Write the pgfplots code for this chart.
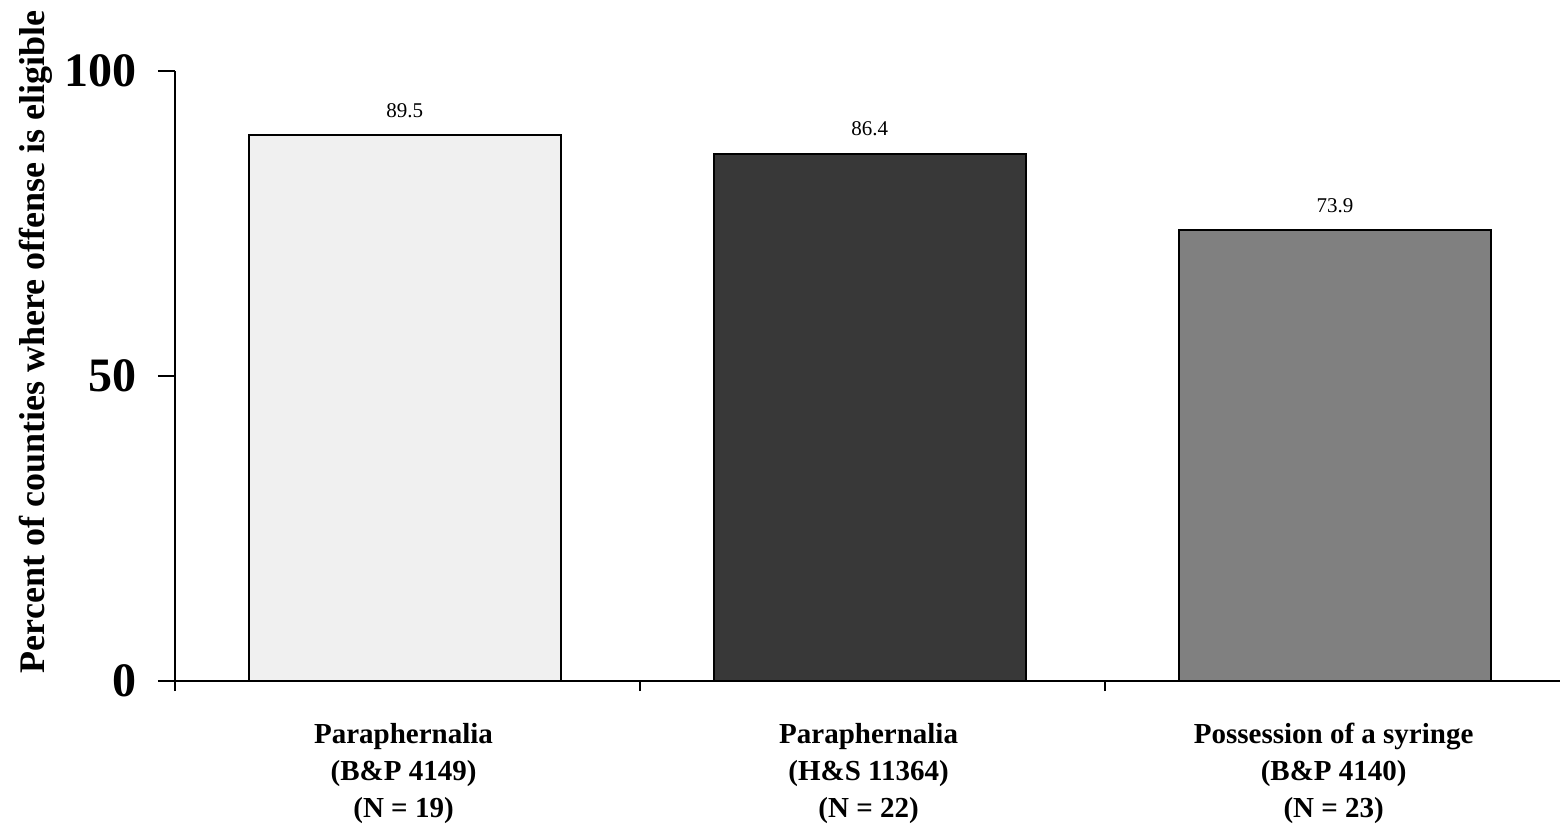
\documentclass[border=0pt]{standalone}
\usepackage{pgfplots}
\pgfplotsset{compat=1.18}
\usepackage{fontspec}
\setmainfont{Liberation Serif}
\begin{document}
\begin{tikzpicture}
\path[use as bounding box] (-87.5pt,-72.5pt) rectangle (692.5pt,340.5pt);
\begin{axis}[
  at={(0,0)}, anchor=origin,
  scale only axis,
  width=692.5pt, height=305pt,
  xmin=0.5, xmax=3.478,
  ymin=0, ymax=100,
  axis lines=left,
  axis line style={-, line width=1pt},
  ytick={0,50,100},
  yticklabel style={font=\fontsize{24}{24}\selectfont\bfseries, xshift=-7pt},
  /pgf/number format/assume math mode=true,
  xtick={1,2,3},
  major x tick style={draw=none},
  minor xtick={0.5,1.5,2.5},
  minor tick length=5pt,
  major tick length=8.5pt,
  tick align=outside,
  tick style={line width=1pt, black},
  minor x tick style={draw=black, line width=1pt},
  xticklabels={{Paraphernalia\\(B\&P 4149)\\(N = 19)},{Paraphernalia\\(H\&S 11364)\\(N = 22)},{Possession of a syringe\\(B\&P 4140)\\(N = 23)}},
  xticklabel style={align=center, font=\fontsize{14.5}{18.5}\selectfont\bfseries, yshift=-9pt, xshift=-2pt},
  ylabel={Percent of counties where offense is eligible},
  ylabel style={at={(axis description cs:-0.1005,0.556)}, anchor=center, font=\fontsize{18}{18}\selectfont\bfseries},
  ybar, bar width=0.671, bar shift=0pt,
  nodes near coords,
  nodes near coords style={font=\fontsize{10.5}{10.5}\selectfont, yshift=5pt, /pgf/number format/fixed, /pgf/number format/precision=1, /pgf/number format/fixed zerofill},
  clip=false,
]
\addplot[draw=black, line width=1pt, fill=black!6, bar shift=0pt] coordinates {(0.994,89.5)};
\addplot[draw=black, line width=1pt, fill=black!78, bar shift=0pt] coordinates {(1.994,86.4)};
\addplot[draw=black, line width=1pt, fill=black!50, bar shift=0pt] coordinates {(2.994,73.9)};
\end{axis}
\end{tikzpicture}
\end{document}
